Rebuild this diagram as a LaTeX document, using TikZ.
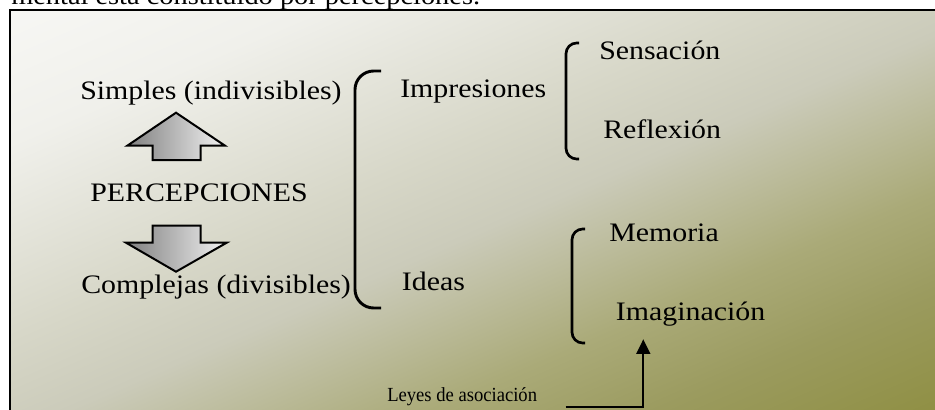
\documentclass[tikz,border=0pt]{standalone}
\usepackage{fontspec}
\setmainfont{Liberation Serif}[FakeStretch=1.12]
\newfontfamily\leyfont{Liberation Serif}[FakeStretch=0.93]
\usetikzlibrary{arrows.meta}

\definecolor{bgwhite}{RGB}{250,250,248}
\definecolor{bglight}{RGB}{240,240,235}
\definecolor{bgpale}{RGB}{215,215,200}
\definecolor{bgmid}{RGB}{203,203,186}
\definecolor{bgsage}{RGB}{170,170,120}
\definecolor{bgkhaki}{RGB}{155,155,95}
\definecolor{bgolive}{RGB}{140,140,60}
\definecolor{bgdark}{RGB}{125,125,25}
\pgfdeclareverticalshading{panelshade}{100bp}{%
  color(0bp)=(bgdark); color(14bp)=(bgolive); color(27bp)=(bgkhaki);
  color(35bp)=(bgsage); color(48bp)=(bgmid); color(56bp)=(bgpale);
  color(72bp)=(bglight); color(88bp)=(bgwhite); color(100bp)=(bgwhite)}

\tikzset{
  txt/.style={anchor=base west, inner sep=0pt, font=\fontsize{20}{24}\selectfont},
  leytxt/.style={anchor=base west, inner sep=0pt, font=\leyfont\fontsize{15}{18}\selectfont},
  bigbrace/.style={line width=2.2pt, rounded corners=14pt},
  brace/.style={line width=2pt, rounded corners=8pt},
  blockarrow/.style={draw, line width=1.5pt, left color=black!50, right color=white!95!black},
  assoc/.style={line width=1.3pt, -{Triangle[length=11pt,width=10.5pt]}}
}

\begin{document}
\begin{tikzpicture}[x=0.75pt,y=-0.75pt]
  \useasboundingbox (0,0) rectangle (935,410);
  \clip (0,0) rectangle (935,410);
  % panel
  \shade[shading=panelshade, shading angle=23.4] (10,10) rectangle (935,410);
  \draw[line width=1.5pt] (10,410) -- (10,10) -- (935,10);
  \node[txt, font=\fontsize{19}{23}\selectfont] (hdr) at (11,5) {mental está constituido por percepciones.};

  % left column
  \node[txt] (simples) at (80,99) {Simples (indivisibles)};
  \node[txt] (percep) at (90,201.7) {PERCEPCIONES};
  \node[txt] (complejas) at (81,293) {Complejas (divisibles)};
  \draw[blockarrow] (176,112.7) -- (225,145.7) -- (200.7,145.7) -- (200.7,160)
    -- (152.7,160) -- (152.7,145.7) -- (127.3,145.7) -- cycle;
  \draw[blockarrow] (152.7,225.7) -- (200.7,225.7) -- (200.7,242.7) -- (226.7,242.7)
    -- (176,271.7) -- (126,242.7) -- (152.7,242.7) -- cycle;
  \draw[bigbrace] (381,71) -- (355,71) -- (355,308) -- (381,308);

  % middle column
  \node[txt] (impres) at (400,98) {Impresiones};
  \node[txt] (ideas) at (401.7,290.7) {Ideas};
  \draw[brace] (579,43) -- (566,43) -- (566,159) -- (579,159);
  \draw[brace] (585,229) -- (572,229) -- (572,343) -- (585,343);

  % right column
  \node[txt] (sensac) at (599,60) {Sensación};
  \node[txt] (reflex) at (603,138) {Reflexión};
  \node[txt] (memoria) at (609,241.7) {Memoria};
  \node[txt] (imagin) at (615.7,320.7) {Imaginación};

  % leyes de asociacion
  \node[leytxt] (leyes) at (387,401.7) {Leyes de asociación};
  \coordinate (asocStart) at (565.7,406.7);
  \coordinate (asocEnd) at (643.3,339.3);
  \draw[assoc] (asocStart) -| (asocEnd);
\end{tikzpicture}
\end{document}
